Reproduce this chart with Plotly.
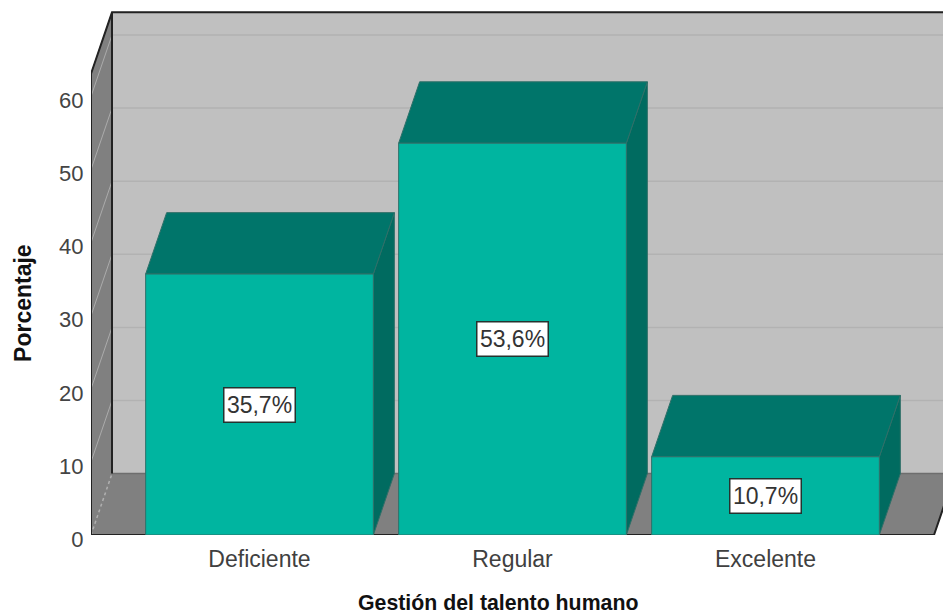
import plotly.graph_objects as go

categories = ["Deficiente", "Regular", "Excelente"]
percentages = [35.7, 53.6, 10.7]
labels = ["35,7%", "53,6%", "10,7%"]
y_ticks = [0, 10, 20, 30, 40, 50, 60]

FRONT = "#00B5A0"
TOP = "#00756A"
SIDE = "#006B60"
EDGE = "#2F6F68"
WALL = "#C0C0C0"
FLOOR = "#808080"
FONT = "Liberation Sans"

BAR_W = 0.45
DX = 0.083
DY = 8.4
LEFT = -0.666
RIGHT = 2.666
WALL_TOP = 63.1

fig = go.Figure()


def poly(xs, ys, fill, line=None, width=1):
    fig.add_trace(go.Scatter(
        x=xs + xs[:1], y=ys + ys[:1], mode="lines", fill="toself", fillcolor=fill,
        line=dict(color=line or fill, width=width), hoverinfo="skip", cliponaxis=False,
    ))


def seg(xs, ys, color, width=1, dash="solid"):
    fig.add_trace(go.Scatter(
        x=xs, y=ys, mode="lines", line=dict(color=color, width=width, dash=dash),
        hoverinfo="skip", cliponaxis=False,
    ))


# walls and floor
poly([LEFT + DX, RIGHT + DX, RIGHT + DX, LEFT + DX], [DY, DY, WALL_TOP + DY, WALL_TOP + DY], WALL)
poly([LEFT, LEFT + DX, LEFT + DX, LEFT], [0, DY, WALL_TOP + DY, WALL_TOP], FLOOR)
poly([LEFT, RIGHT, RIGHT + DX, LEFT + DX], [0, 0, DY, DY], FLOOR)

# gridlines
for v in y_ticks[1:]:
    seg([LEFT + DX, RIGHT + DX], [v + DY, v + DY], "#B2B2B2", 1.5)
    seg([LEFT, LEFT + DX], [v, v + DY], "#ABABAB", 1)
seg([LEFT + DX, RIGHT + DX], [DY, DY], "#6E6E6E", 1.5)
seg([LEFT, LEFT + DX], [0, DY], "#B0B0B0", 1.5, "dot")

# frame
seg([LEFT, LEFT, LEFT + DX, RIGHT + DX], [0, WALL_TOP, WALL_TOP + DY, WALL_TOP + DY], "#222222", 2)
seg([LEFT + DX, LEFT + DX], [DY, WALL_TOP + DY], "#222222", 2)
seg([LEFT, RIGHT, RIGHT + DX], [0, 0, DY], "#222222", 2)

# bars
for i, value in enumerate(percentages):
    x0 = i - BAR_W
    x1 = i + BAR_W
    poly([x1, x1 + DX, x1 + DX, x1], [0, DY, value + DY, value], SIDE, EDGE)
    poly([x0, x1, x1 + DX, x0 + DX], [value, value, value + DY, value + DY], TOP, EDGE)
    poly([x0, x1, x1, x0], [0, 0, value, value], FRONT, EDGE)
    fig.add_annotation(
        x=i, y=value / 2, text=labels[i], showarrow=False,
        font=dict(family=FONT, size=23, color="#333333"),
        bgcolor="white", bordercolor="#24332F", borderwidth=1.5,
        width=70, height=33, borderpad=0,
    )

fig.add_annotation(
    xref="paper", yref="paper", x=-0.0967, y=0.433, text="<b>Porcentaje</b>",
    textangle=-90, showarrow=False, font=dict(family=FONT, size=23, color="#111111"),
)
fig.add_annotation(
    xref="paper", yref="paper", x=0.478, y=-0.151, text="<b>Gestión del talento humano</b>",
    showarrow=False, font=dict(family=FONT, size=21.3, color="#111111"), borderpad=0,
)

fig.update_layout(
    width=943, height=614,
    margin=dict(l=91, r=0, t=0, b=79),
    paper_bgcolor="white", plot_bgcolor="white",
    showlegend=False,
    xaxis=dict(
        range=[LEFT, 2.7016], tickmode="array", tickvals=[0, 1, 2], ticktext=categories,
        showgrid=False, zeroline=False, showline=False,
        ticks="outside", ticklen=3, tickcolor="rgba(0,0,0,0)",
        tickfont=dict(family=FONT, size=23, color="#404040"),
    ),
    yaxis=dict(
        range=[0, 73.19], tickmode="array", tickvals=y_ticks,
        showgrid=False, zeroline=False, showline=False,
        ticks="outside", ticklen=2, tickcolor="rgba(0,0,0,0)", ticklabelshift=4,
        tickfont=dict(family=FONT, size=22, color="#444444"),
    ),
)

# the page's default body margin would push the chart 8px off
fig.write_html(
    "out.html",
    config={"displayModeBar": False},
    post_script="document.body.style.margin='0';",
)
